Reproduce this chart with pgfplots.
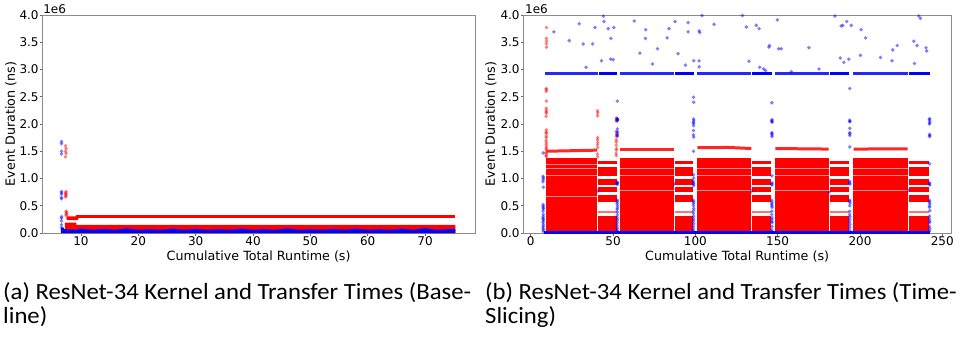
\documentclass[border=0pt]{standalone}
\usepackage{fontspec}
\setmainfont{DejaVu Sans}
\newfontfamily\capfont{Carlito}
\usepackage{pgfplots}
\pgfplotsset{compat=1.18}
\pgfplotsset{
  myaxis/.style={
    scale only axis, height=218bp,
    ymin=0, ymax=4,
    ytick={0,0.5,1,1.5,2,2.5,3,3.5,4},
    yticklabels={0.0,0.5,1.0,1.5,2.0,2.5,3.0,3.5,4.0},
    axis line style={black!45, line width=0.8bp},
    every tick/.style={black!60, line width=0.7bp},
    major tick length=2.5bp,
    tick align=outside, tick pos=left,
    tick label style={font=\fontsize{12bp}{14bp}\selectfont, inner sep=1bp},
    label style={font=\fontsize{12.7bp}{15bp}\selectfont},
    xlabel style={at={(axis description cs:0.5,0)}, anchor=base, yshift=-27bp},
    clip mode=individual,
  },
  rdot/.style={only marks, mark=*, color=red, mark size=1.9bp, mark options={draw opacity=0, fill opacity=0.5}},
  bdot/.style={only marks, mark=*, color=blue, mark size=1.9bp, mark options={draw opacity=0, fill opacity=0.5}},
  rblk/.style={fill=red, draw=none},
  pblk/.style={fill=red!55, draw=none},
}
\begin{document}
\begin{tikzpicture}
\useasboundingbox (0bp,0bp) rectangle (964bp,-337bp);
% ---------------- (a) Baseline ----------------
\begin{axis}[myaxis, at={(42.3bp,-15bp)}, anchor=north west, width=432.7bp,
  xmin=3.25, xmax=78.72, xtick={10,20,30,40,50,60,70}, xticklabels={10,20,30,40,50,60,70},
  xlabel={Cumulative Total Runtime (s)}, ylabel={Event Duration (ns)},
  ylabel style={at={(axis description cs:-0.0728,0.5)}, anchor=center}]
% kernels (red)
\addplot[rblk] coordinates {(7.2,0) (7.2,0.19) (9.2,0.19) (9.2,0.15) (75.3,0.15) (75.3,0)} -- cycle;
\addplot[red, line width=3.6bp] coordinates {(9.2,0.305) (75.3,0.305)};
\addplot[red, line width=3.6bp] coordinates {(7.5,0.27) (9.2,0.27) (9.4,0.30)};
\addplot[rdot] coordinates {(7.3,1.60)(7.4,1.55)(7.3,1.50)(7.4,1.46)(7.3,1.40)(7.4,0.76)(7.3,0.74)(7.4,0.72)(7.3,0.70)(7.4,0.68)(7.3,0.66)(7.4,0.40)(7.5,0.38)(7.4,0.36)(7.5,0.34)(7.4,0.32)};
% transfers (blue)
\addplot[fill=blue, draw=none] coordinates {(6.5,0) (6.5,0.10) (7.0,0.10) (7.0,0.07) (9,0.06) (10,0.08) (12,0.06) (14,0.075) (16,0.06) (18,0.085) (20,0.06) (22,0.07) (24,0.06) (26,0.08) (28,0.06) (30,0.075) (32,0.06) (34,0.07) (36,0.06) (38,0.08) (40,0.06) (42,0.07) (44,0.06) (46,0.085) (48,0.06) (50,0.07) (52,0.06) (54,0.075) (56,0.06) (58,0.08) (60,0.06) (62,0.07) (64,0.06) (66,0.08) (68,0.06) (70,0.09) (72,0.06) (74,0.07) (75.3,0.07) (75.3,0)} -- cycle;
\addplot[bdot] coordinates {(6.6,1.68)(6.6,1.64)(6.6,1.50)(6.6,1.45)(6.6,0.76)(6.6,0.74)(6.6,0.71)(6.6,0.65)(6.6,0.63)(6.6,0.30)(6.6,0.27)(6.6,0.22)(6.6,0.15)(6.6,0.10)};
\node[anchor=base west, inner sep=0pt, font=\fontsize{12bp}{14bp}\selectfont] at (rel axis cs:0.002,1) [yshift=1.5bp] {1e6};
\end{axis}
% ---------------- (b) Time-Slicing ----------------
\begin{axis}[myaxis, at={(523.3bp,-15bp)}, anchor=north west, width=427.7bp,
  xmin=-4.5, xmax=255.3, xtick={0,50,100,150,200,250}, xticklabels={0,50,100,150,200,250},
  xlabel={Cumulative Total Runtime (s)}, ylabel={Event Duration (ns)},
  ylabel style={at={(axis description cs:-0.076,0.5)}, anchor=center}]
% phase A blocks
\addplot[rblk] coordinates {(9.0,0) (9.0,1.375) (40.5,1.375) (40.5,0)} -- cycle;
\addplot[rblk] coordinates {(54.2,0) (54.2,1.375) (87.0,1.375) (87.0,0)} -- cycle;
\addplot[rblk] coordinates {(101.0,0) (101.0,1.375) (134.0,1.375) (134.0,0)} -- cycle;
\addplot[rblk] coordinates {(148.4,0) (148.4,1.375) (181.1,1.375) (181.1,0)} -- cycle;
\addplot[rblk] coordinates {(196.0,0) (196.0,1.375) (229.0,1.375) (229.0,0)} -- cycle;
% faint lines inside phase A
\addplot[red!45, line width=1bp] coordinates {(9.5,1.25) (40.5,1.25)};
\addplot[red!45, line width=1bp] coordinates {(9.5,1.175) (40.5,1.175)};
\addplot[red!45, line width=1bp] coordinates {(9.5,1.06) (40.5,1.06)};
\addplot[red!45, line width=1bp] coordinates {(9.5,0.675) (40.5,0.675)};
\addplot[red!45, line width=1bp] coordinates {(54.2,1.175) (87.0,1.175)};
\addplot[red!45, line width=1bp] coordinates {(54.2,1.06) (87.0,1.06)};
\addplot[red!45, line width=1bp] coordinates {(54.2,0.78) (87.0,0.78)};
\addplot[red!45, line width=1bp] coordinates {(101.0,1.175) (134.0,1.175)};
\addplot[red!45, line width=1bp] coordinates {(101.0,1.06) (134.0,1.06)};
\addplot[red!45, line width=1bp] coordinates {(101.0,0.78) (134.0,0.78)};
\addplot[red!45, line width=1bp] coordinates {(148.4,1.175) (181.1,1.175)};
\addplot[red!45, line width=1bp] coordinates {(148.4,1.06) (181.1,1.06)};
\addplot[red!45, line width=1bp] coordinates {(148.4,0.78) (181.1,0.78)};
\addplot[red!45, line width=1bp] coordinates {(196.0,1.175) (229.0,1.175)};
\addplot[red!45, line width=1bp] coordinates {(196.0,1.06) (229.0,1.06)};
\addplot[red!45, line width=1bp] coordinates {(196.0,0.78) (229.0,0.78)};
% top lines of phase A
\addplot[red, opacity=0.85, line width=3bp] coordinates {(9.7,1.50) (40.4,1.52)};
\addplot[red, opacity=0.85, line width=3bp] coordinates {(54.5,1.54) (86.8,1.54)};
\addplot[red, opacity=0.85, line width=3bp] coordinates {(101.2,1.565) (120,1.57) (134.0,1.55)};
\addplot[red, opacity=0.85, line width=3bp] coordinates {(148.6,1.55) (181.0,1.54)};
\addplot[red, opacity=0.85, line width=3bp] coordinates {(196.2,1.54) (229.0,1.545)};
% phase B stripes
\addplot[rblk] coordinates {(41.0,1.26) (41.0,1.32) (52.2,1.32) (52.2,1.26)} -- cycle;
\addplot[rblk] coordinates {(41.0,1.04) (41.0,1.21) (52.2,1.21) (52.2,1.04)} -- cycle;
\addplot[rblk] coordinates {(41.0,0.88) (41.0,0.99) (52.2,0.99) (52.2,0.88)} -- cycle;
\addplot[rblk] coordinates {(41.0,0.75) (41.0,0.84) (52.2,0.84) (52.2,0.75)} -- cycle;
\addplot[rblk] coordinates {(41.0,0.57) (41.0,0.70) (52.2,0.70) (52.2,0.57)} -- cycle;
\addplot[pblk] coordinates {(41.0,0.37) (41.0,0.41) (52.2,0.41) (52.2,0.37)} -- cycle;
\addplot[rblk] coordinates {(41.0,0) (41.0,0.31) (52.2,0.31) (52.2,0)} -- cycle;
\addplot[rblk] coordinates {(87.5,1.26) (87.5,1.32) (98.6,1.32) (98.6,1.26)} -- cycle;
\addplot[rblk] coordinates {(87.5,1.04) (87.5,1.21) (98.6,1.21) (98.6,1.04)} -- cycle;
\addplot[rblk] coordinates {(87.5,0.88) (87.5,0.99) (98.6,0.99) (98.6,0.88)} -- cycle;
\addplot[rblk] coordinates {(87.5,0.75) (87.5,0.84) (98.6,0.84) (98.6,0.75)} -- cycle;
\addplot[rblk] coordinates {(87.5,0.57) (87.5,0.70) (98.6,0.70) (98.6,0.57)} -- cycle;
\addplot[pblk] coordinates {(87.5,0.37) (87.5,0.41) (98.6,0.41) (98.6,0.37)} -- cycle;
\addplot[rblk] coordinates {(87.5,0) (87.5,0.31) (98.6,0.31) (98.6,0)} -- cycle;
\addplot[rblk] coordinates {(134.6,1.26) (134.6,1.32) (146.1,1.32) (146.1,1.26)} -- cycle;
\addplot[rblk] coordinates {(134.6,1.04) (134.6,1.21) (146.1,1.21) (146.1,1.04)} -- cycle;
\addplot[rblk] coordinates {(134.6,0.88) (134.6,0.99) (146.1,0.99) (146.1,0.88)} -- cycle;
\addplot[rblk] coordinates {(134.6,0.75) (134.6,0.84) (146.1,0.84) (146.1,0.75)} -- cycle;
\addplot[rblk] coordinates {(134.6,0.57) (134.6,0.70) (146.1,0.70) (146.1,0.57)} -- cycle;
\addplot[pblk] coordinates {(134.6,0.37) (134.6,0.41) (146.1,0.41) (146.1,0.37)} -- cycle;
\addplot[rblk] coordinates {(134.6,0) (134.6,0.31) (146.1,0.31) (146.1,0)} -- cycle;
\addplot[rblk] coordinates {(181.5,1.26) (181.5,1.32) (193.2,1.32) (193.2,1.26)} -- cycle;
\addplot[rblk] coordinates {(181.5,1.04) (181.5,1.21) (193.2,1.21) (193.2,1.04)} -- cycle;
\addplot[rblk] coordinates {(181.5,0.88) (181.5,0.99) (193.2,0.99) (193.2,0.88)} -- cycle;
\addplot[rblk] coordinates {(181.5,0.75) (181.5,0.84) (193.2,0.84) (193.2,0.75)} -- cycle;
\addplot[rblk] coordinates {(181.5,0.57) (181.5,0.70) (193.2,0.70) (193.2,0.57)} -- cycle;
\addplot[pblk] coordinates {(181.5,0.37) (181.5,0.41) (193.2,0.41) (193.2,0.37)} -- cycle;
\addplot[rblk] coordinates {(181.5,0) (181.5,0.31) (193.2,0.31) (193.2,0)} -- cycle;
\addplot[rblk] coordinates {(229.6,1.26) (229.6,1.32) (242.2,1.32) (242.2,1.26)} -- cycle;
\addplot[rblk] coordinates {(229.6,1.04) (229.6,1.21) (242.2,1.21) (242.2,1.04)} -- cycle;
\addplot[rblk] coordinates {(229.6,0.88) (229.6,0.99) (242.2,0.99) (242.2,0.88)} -- cycle;
\addplot[rblk] coordinates {(229.6,0.75) (229.6,0.84) (242.2,0.84) (242.2,0.75)} -- cycle;
\addplot[rblk] coordinates {(229.6,0.57) (229.6,0.70) (242.2,0.70) (242.2,0.57)} -- cycle;
\addplot[pblk] coordinates {(229.6,0.37) (229.6,0.41) (242.2,0.41) (242.2,0.37)} -- cycle;
\addplot[rblk] coordinates {(229.6,0) (229.6,0.31) (242.2,0.31) (242.2,0)} -- cycle;
% red outliers
\addplot[rdot] coordinates {(9.6,3.77)(9.5,3.57)(9.6,3.52)(9.5,3.47)(9.6,3.41)(9.4,2.65)(9.5,2.63)(9.4,2.60)(9.5,2.42)(9.4,2.29)(9.5,2.25)(9.4,2.22)(9.5,2.20)(9.4,2.14)(9.5,1.89)(9.4,1.85)(9.5,1.83)(9.4,1.78)(9.5,1.75)(9.4,1.70)(9.5,1.66)(9.4,1.62)(9.5,1.58)(9.4,1.55)(9.5,1.52)(9.4,1.48)(9.5,1.45)(9.4,1.42)(9.5,1.40)
(40.6,2.24)(40.7,2.20)(40.6,2.15)(40.7,1.75)(40.6,1.71)(40.7,1.66)(40.6,1.62)(40.7,1.57)(40.6,1.45)(40.7,1.40)
(52.0,2.11)(52.1,2.08)(52.0,2.05)(51.9,1.86)(52.0,1.80)(52.1,1.77)(52.0,1.71)(51.9,1.67)(52.0,1.61)(52.1,1.55)(52.0,1.52)(51.9,1.46)(52.0,1.42)};
% transfers (blue)
\addplot[blue, line width=3.5bp] coordinates {(8.0,0.012) (242.8,0.012)};
\addplot[blue, opacity=0.85, line width=3bp] coordinates {(8.7,2.93) (40.8,2.93)};
\addplot[blue, line width=3.5bp] coordinates {(41.6,2.93) (52.6,2.93)};
\addplot[blue, opacity=0.85, line width=3bp] coordinates {(54.2,2.93) (86.9,2.93)};
\addplot[blue, line width=3.5bp] coordinates {(87.5,2.93) (99.0,2.93)};
\addplot[blue, opacity=0.85, line width=3bp] coordinates {(100.8,2.93) (133.6,2.93)};
\addplot[blue, line width=3.5bp] coordinates {(134.4,2.93) (146.6,2.93)};
\addplot[blue, opacity=0.85, line width=3bp] coordinates {(148.2,2.93) (180.9,2.93)};
\addplot[blue, line width=3.5bp] coordinates {(181.6,2.93) (193.6,2.93)};
\addplot[blue, opacity=0.85, line width=3bp] coordinates {(195.6,2.93) (228.9,2.93)};
\addplot[blue, line width=3.5bp] coordinates {(229.8,2.93) (242.6,2.93)};
\addplot[bdot] coordinates {
(7.6,1.47)(7.5,1.04)(7.7,1.01)(7.6,0.98)(7.5,0.94)(7.7,0.84)(7.6,0.52)(7.5,0.49)(7.7,0.46)(7.6,0.44)(7.5,0.40)(7.7,0.34)(7.6,0.30)(7.5,0.27)(7.7,0.25)(7.6,0.22)(7.5,0.19)(7.7,0.15)(7.6,0.12)(7.5,0.09)(7.7,0.06)(7.6,0.03)
(52.6,2.42)(52.5,2.10)(52.7,2.09)(52.6,2.08)(52.8,2.07)(52.5,2.06)(52.6,1.91)(52.7,1.86)(52.5,1.83)(52.6,1.80)(52.7,1.78)(52.6,0.93)(52.7,0.92)(52.5,0.91)(52.6,0.89)(52.7,0.60)(52.6,0.57)(52.5,0.54)(52.7,0.50)(52.6,0.46)(52.5,0.43)(52.7,0.38)(52.6,0.33)(52.5,0.28)(52.7,0.24)(52.6,0.19)(52.5,0.14)(52.7,0.09)(52.6,0.05)(52.6,0.02)
(98.9,2.49)(99.0,2.40)(98.9,2.09)(99.0,2.06)(98.8,2.03)(98.9,2.01)(99.0,1.97)(98.9,1.88)(98.8,1.80)(99.0,1.76)(98.9,1.50)(98.9,1.07)(99.0,1.01)(98.9,0.95)(98.8,0.92)(99.0,0.90)(98.9,0.87)(98.9,0.60)(99.0,0.57)(98.8,0.54)(98.9,0.50)(99.0,0.45)(98.9,0.41)(98.8,0.36)(99.0,0.31)(98.9,0.26)(98.8,0.22)(99.0,0.17)(98.9,0.12)(98.8,0.07)(98.9,0.03)
(146.5,2.39)(146.6,2.08)(146.4,2.06)(146.5,2.05)(146.6,2.03)(146.5,1.84)(146.4,1.82)(146.6,1.80)(146.5,1.77)(146.5,1.05)(146.6,0.92)(146.4,0.90)(146.5,0.88)(146.5,0.60)(146.6,0.56)(146.4,0.53)(146.5,0.50)(146.6,0.47)(146.5,0.40)(146.4,0.34)(146.6,0.28)(146.5,0.25)(146.4,0.21)(146.6,0.19)(146.5,0.12)(146.4,0.06)(146.5,0.03)
(193.8,2.65)(193.7,2.07)(193.9,2.05)(193.8,2.04)(193.8,1.92)(193.7,1.84)(193.9,1.82)(193.8,1.79)(193.8,1.58)(193.8,0.95)(193.7,0.92)(193.9,0.90)(193.8,0.60)(193.7,0.58)(193.9,0.55)(193.8,0.50)(193.8,0.40)(193.7,0.34)(193.9,0.30)(193.8,0.25)(193.7,0.20)(193.9,0.15)(193.8,0.10)(193.8,0.05)
(242.3,2.10)(242.2,2.08)(242.4,2.05)(242.3,2.02)(242.2,2.00)(242.3,1.81)(242.4,1.79)(242.3,1.77)(242.3,1.27)(242.3,0.92)(242.2,0.90)(242.4,0.88)(242.3,0.60)(242.2,0.57)(242.4,0.54)(242.3,0.50)(242.2,0.47)(242.4,0.41)(242.3,0.31)(242.2,0.26)(242.4,0.22)(242.3,0.19)(242.2,0.12)(242.4,0.08)(242.3,0.04)
(40.9,0.77)(87.2,0.90)(134.2,0.77)(181.3,0.75)(229.3,0.78)};
\addplot[bdot] coordinates {
(14.1,3.69)(23.4,3.53)(29.5,3.84)(31.9,3.47)(33.6,3.04)(37.6,3.47)(39.0,3.77)(43.0,3.16)(44.1,3.98)(44.5,3.88)(47.1,3.75)(48.5,3.19)(48.7,3.57)(50.1,3.18)(50.5,3.77)
(62.9,3.89)(66.3,3.30)(69.7,3.57)(69.9,3.73)(74.0,3.10)(77.0,3.38)(82.9,3.58)(84.0,3.75)(87.7,3.88)(89.5,3.29)(95.6,3.86)(95.6,3.69)(94.0,3.08)(99.0,3.16)
(102.3,3.71)(102.7,3.68)(102.3,3.05)(102.3,3.16)(104.1,3.99)(111.4,3.83)(128.6,3.99)(131.0,3.78)(132.6,3.15)(137.0,3.81)(138.7,3.75)(139.1,3.04)(141.5,3.01)(142.7,2.98)(144.7,3.41)(145.1,3.44)
(149.8,3.91)(150.6,3.38)(152.2,3.38)(158.3,2.96)(169.0,3.40)(175.1,3.01)(184.8,3.98)(188.0,3.21)(188.6,3.80)(189.6,3.81)(190.2,3.13)(192.0,3.88)(193.2,3.19)(194.7,3.81)
(200.3,3.26)(200.7,3.73)(203.4,3.58)(212.5,3.22)(219.5,3.16)(219.9,3.36)(222.6,3.44)(232.7,3.52)(233.1,3.11)(234.7,3.44)(235.7,3.98)(236.7,3.94)(240.1,3.40)(240.5,3.34)};
\node[anchor=base west, inner sep=0pt, font=\fontsize{12bp}{14bp}\selectfont] at (rel axis cs:0.004,1) [yshift=1.5bp] {1e6};
\end{axis}
% captions
\node[anchor=base west, inner sep=0pt, font=\capfont\fontsize{23.2bp}{24bp}\selectfont] at (3bp,-299.5bp) {\scalebox{1.065}[1]{(a) ResNet-34 Kernel and Transfer Times (Base-}};
\node[anchor=base west, inner sep=0pt, font=\capfont\fontsize{23.2bp}{24bp}\selectfont] at (3bp,-323bp) {\scalebox{1.065}[1]{line)}};
\node[anchor=base west, inner sep=0pt, font=\capfont\fontsize{23.2bp}{24bp}\selectfont] at (485bp,-299.5bp) {\scalebox{1.065}[1]{(b) ResNet-34 Kernel and Transfer Times (Time-}};
\node[anchor=base west, inner sep=0pt, font=\capfont\fontsize{23.2bp}{24bp}\selectfont] at (485bp,-323bp) {\scalebox{1.065}[1]{Slicing)}};
\end{tikzpicture}
\end{document}
